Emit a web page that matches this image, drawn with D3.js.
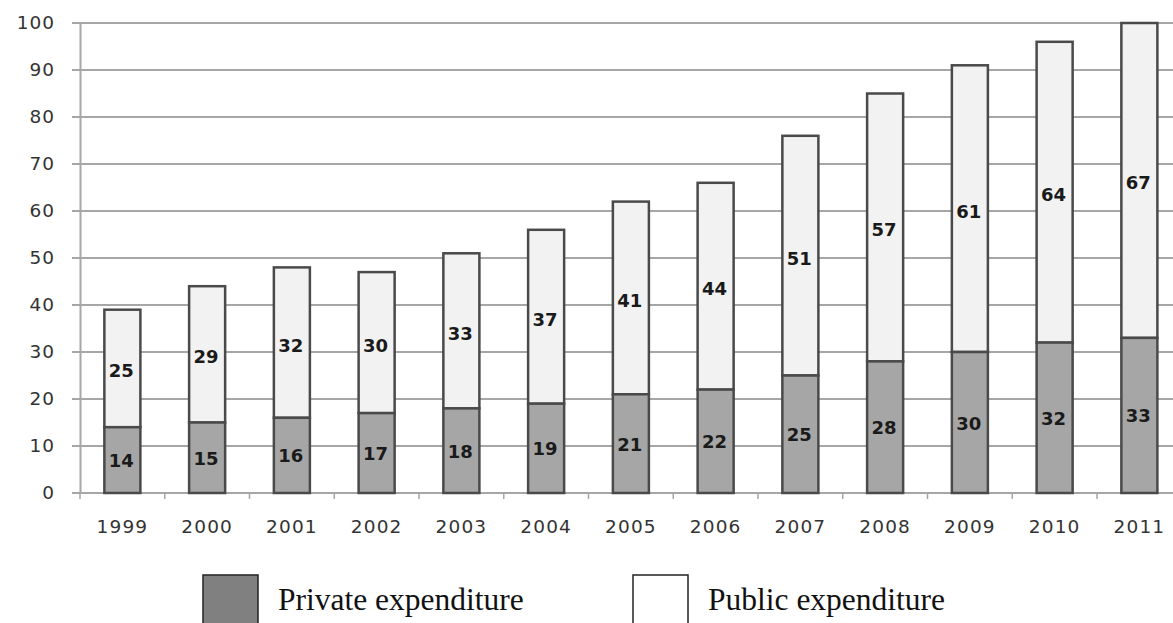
<!DOCTYPE html>
<html><head><meta charset="utf-8">
<script src="https://cdn.jsdelivr.net/npm/d3@7"></script>
<style>body{margin:0;background:#fff}svg{display:block}</style>
</head><body>
<svg id="c" width="1173" height="623"></svg>
<script>
const years = ["1999","2000","2001","2002","2003","2004","2005","2006","2007","2008","2009","2010","2011"];
const privateExp = [14,15,16,17,18,19,21,22,25,28,30,32,33];
const publicExp = [25,29,32,30,33,37,41,44,51,57,61,64,67];
const yTicks = [0,10,20,30,40,50,60,70,80,90,100];
const seriesNames = ["Private expenditure","Public expenditure"];

(function(){
const svg = d3.select("#c");
const mLeft = 80, mTop = 23, mBottom = 493, step = 84.75;
const x = d3.scaleBand().domain(years).range([mLeft, mLeft + step*years.length]).paddingInner(0.575).paddingOuter(0.2875);
const y = d3.scaleLinear().domain([0,100]).range([mBottom, mTop]);

// gridlines
svg.append("g").selectAll("line").data(yTicks).join("line")
  .attr("x1", 72).attr("x2", 1173)
  .attr("y1", d => y(d)).attr("y2", d => y(d))
  .attr("stroke", "#a6a6a6").attr("stroke-width", 2);

// y axis
const yAxis = d3.axisLeft(y).tickValues(yTicks).tickSize(0).tickPadding(25);
const gy = svg.append("g").attr("transform", `translate(${mLeft},0)`).call(yAxis);
gy.select(".domain").attr("stroke", "#a6a6a6").attr("stroke-width", 2);
gy.selectAll("text").attr("font-family", "DejaVu Sans, Verdana, sans-serif").attr("font-size", 18.5)
  .attr("letter-spacing", 1).attr("fill", "#333");

// x axis
const xAxis = d3.axisBottom(x).tickSize(0).tickPadding(27);
const gx = svg.append("g").attr("transform", `translate(0,${mBottom})`).call(xAxis);
gx.select(".domain").remove();
gx.selectAll("text").attr("font-family", "DejaVu Sans, Verdana, sans-serif").attr("font-size", 18.5)
  .attr("letter-spacing", 1.2).attr("fill", "#333");
const bounds = d3.range(years.length + 1).map(i => mLeft + i*step);
svg.append("g").selectAll("line").data(bounds).join("line")
  .attr("x1", d => d).attr("x2", d => d).attr("y1", mBottom).attr("y2", mBottom + 6)
  .attr("stroke", "#a6a6a6").attr("stroke-width", 1.5);
svg.append("line").attr("x1", mLeft).attr("x2", 1173).attr("y1", mBottom).attr("y2", mBottom)
  .attr("stroke", "#a6a6a6").attr("stroke-width", 2);

const data = years.map((yr, i) => ({yr, p: privateExp[i], q: publicExp[i]}));

const bars = svg.append("g");
bars.selectAll("rect.pub").data(data).join("rect").attr("class","pub")
  .attr("x", d => x(d.yr)).attr("width", x.bandwidth())
  .attr("y", d => y(d.p + d.q)).attr("height", d => y(d.p) - y(d.p + d.q))
  .attr("fill", "#f2f2f2").attr("stroke", "#4a4a4a").attr("stroke-width", 2.5);
bars.selectAll("rect.pri").data(data).join("rect").attr("class","pri")
  .attr("x", d => x(d.yr)).attr("width", x.bandwidth())
  .attr("y", d => y(d.p)).attr("height", d => y(0) - y(d.p))
  .attr("fill", "#a6a6a6").attr("stroke", "#4a4a4a").attr("stroke-width", 2.5);

const lab = svg.append("g").attr("font-family", "DejaVu Sans, Tahoma, sans-serif").attr("font-weight", "bold")
  .attr("font-size", 18).attr("fill", "#1a1a1a").attr("text-anchor", "middle");
lab.selectAll("text.p").data(data).join("text").attr("class","p")
  .attr("x", d => x(d.yr) + x.bandwidth()/2 - 1).attr("y", d => (y(0) + y(d.p))/2 + 7).text(d => d.p);
lab.selectAll("text.q").data(data).join("text").attr("class","q")
  .attr("x", d => x(d.yr) + x.bandwidth()/2 - 1).attr("y", d => (y(d.p) + y(d.p + d.q))/2 + 9).text(d => d.q);

const leg = svg.append("g");
const legX = [203, 633], legFill = ["#808080", "#ffffff"];
seriesNames.forEach((n, i) => {
  leg.append("rect").attr("x", legX[i]).attr("y", 575).attr("width", 55).attr("height", 52)
    .attr("fill", legFill[i]).attr("stroke", "#222").attr("stroke-width", 1.5);
  leg.append("text").attr("x", legX[i] + 75).attr("y", 610).text(n)
    .attr("font-family", "Liberation Serif, Times New Roman, serif").attr("font-size", 31.5).attr("fill", "#111");
});
})();
</script>
</body></html>
